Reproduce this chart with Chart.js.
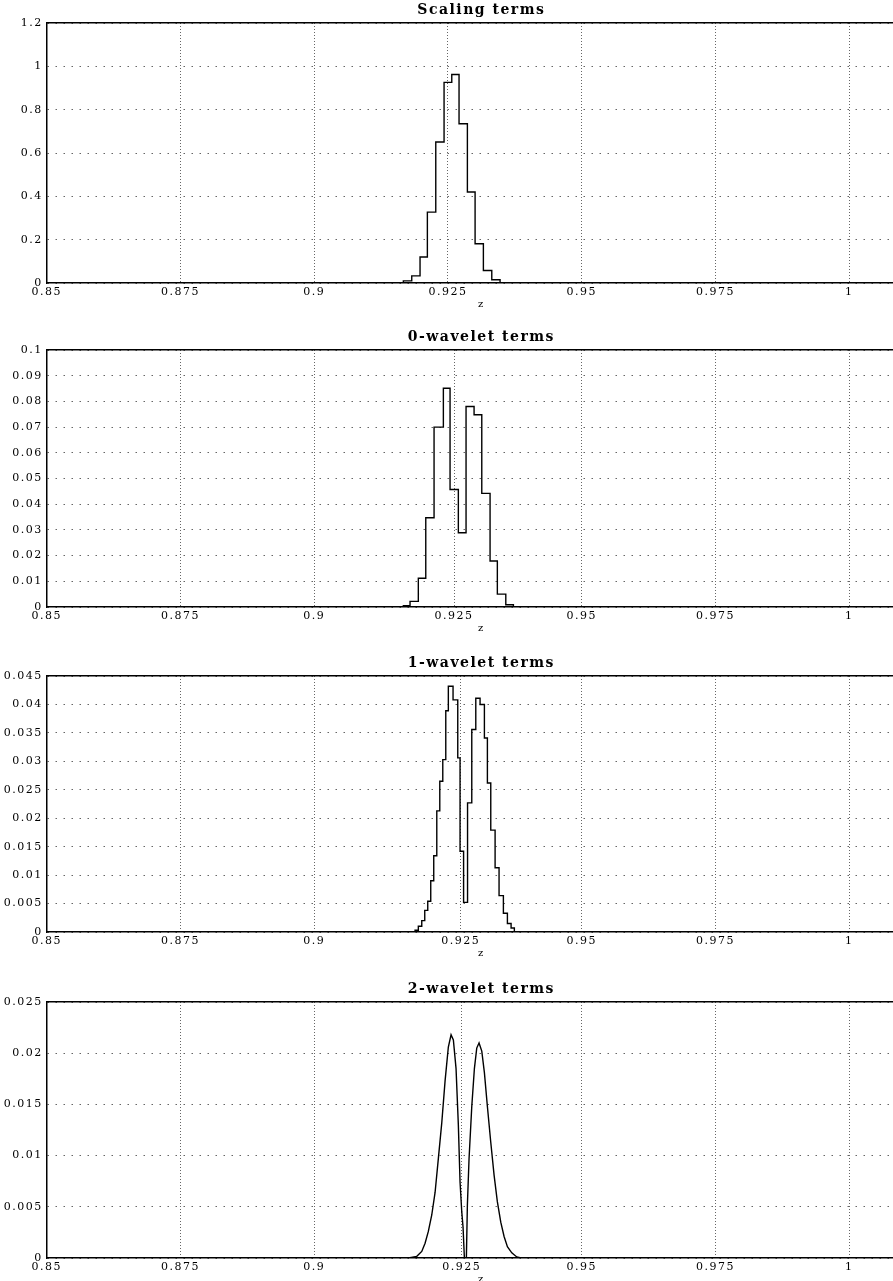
<!DOCTYPE html>
<html>
<head>
<meta charset="utf-8">
<script src="https://cdn.jsdelivr.net/npm/chart.js"></script>
<style>
  html, body { margin: 0; padding: 0; background: #fff; overflow: hidden; }
  .panel { position: absolute; left: 0; }
</style>
</head>
<body>
<div class="panel" style="top:-1px"><canvas id="scaling" width="916" height="314"></canvas></div>
<div class="panel" style="top:326px"><canvas id="wav0" width="916" height="311"></canvas></div>
<div class="panel" style="top:652px"><canvas id="wav1" width="916" height="310"></canvas></div>
<div class="panel" style="top:978px"><canvas id="wav2" width="916" height="310"></canvas></div>
<script>
// x range and tick labels (shared)
const xMin = 0.85;
const xMax = 1.0125;
const xTickLabels = ['0.85', '0.875', '0.9', '0.925', '0.95', '0.975', '1'];

// Scaling terms
const zScaling = [0.85, 0.91667, 0.91824, 0.91979, 0.92116, 0.92273, 0.92428, 0.92572, 0.92708, 0.92864, 0.93008, 0.93163, 0.93320, 0.93475, 1.0125];
const scaling = [0, 0.01, 0.033, 0.12, 0.327, 0.651, 0.926, 0.962, 0.735, 0.42, 0.181, 0.058, 0.015, 0, 0];
const xTicks1 = [0.85, 0.875, 0.9, 0.925, 0.95, 0.975, 1];
const yTicks1 = [0, 0.2, 0.4, 0.6, 0.8, 1, 1.2];

// 0-wavelet terms
const zWav0 = [0.85, 0.91667, 0.91792, 0.91947, 0.92086, 0.92241, 0.92415, 0.92540, 0.92695, 0.92839, 0.92989, 0.93133, 0.93288, 0.93424, 0.93582, 0.93724, 1.0125];
const wav0 = [0, 0.0005, 0.0022, 0.0112, 0.0347, 0.0700, 0.0851, 0.0457, 0.0289, 0.0780, 0.0748, 0.0442, 0.0179, 0.0050, 0.0009, 0, 0];
const xTicks2 = [0.85, 0.875, 0.9, 0.92615, 0.95, 0.975, 1];
const yTicks2 = [0, 0.01, 0.02, 0.03, 0.04, 0.05, 0.06, 0.07, 0.08, 0.09, 0.1];

// 1-wavelet terms
const zWav1 = [0.85, 0.91886, 0.91947, 0.92011, 0.92067, 0.92123, 0.92179, 0.92235, 0.92292, 0.92348, 0.92404, 0.92460, 0.92508, 0.92596, 0.92684, 0.92727, 0.92793, 0.92867, 0.92946, 0.93021, 0.93101, 0.93182, 0.93238, 0.93301, 0.93382, 0.93456, 0.93537, 0.93612, 0.93681, 0.93742, 1.0125];
const wav1 = [0, 0.0003, 0.0010, 0.0020, 0.0038, 0.0054, 0.0090, 0.0134, 0.0213, 0.0265, 0.0303, 0.0389, 0.0432, 0.0408, 0.0306, 0.0142, 0.0052, 0.0227, 0.0356, 0.0411, 0.0400, 0.0341, 0.0262, 0.0179, 0.0113, 0.0064, 0.0033, 0.0015, 0.0007, 0, 0];
const xTicks3 = [0.85, 0.875, 0.9, 0.9274, 0.95, 0.975, 1];
const yTicks3 = [0, 0.005, 0.01, 0.015, 0.02, 0.025, 0.03, 0.035, 0.04, 0.045];

// 2-wavelet terms
const zWav2 = [0.85, 0.91761, 0.91918, 0.92011, 0.92073, 0.92134, 0.92198, 0.92260, 0.92321, 0.92385, 0.92447, 0.92508, 0.92559, 0.92602, 0.92652, 0.92695, 0.92727, 0.92759, 0.92783, 0.92808, 0.92845, 0.92864, 0.92895, 0.92946, 0.92995, 0.93039, 0.93082, 0.93133, 0.93182, 0.93238, 0.93301, 0.93363, 0.93424, 0.93488, 0.93550, 0.93612, 0.93694, 0.93787, 0.93868, 1.0125];
const wav2 = [0, 0, 0.00016, 0.00064, 0.00145, 0.0026, 0.0042, 0.0064, 0.0097, 0.0132, 0.0173, 0.0206, 0.0218, 0.0213, 0.0185, 0.0130, 0.0074, 0.0045, 0.0030, 0, 0, 0.0052, 0.0097, 0.0148, 0.0185, 0.0205, 0.0210, 0.0202, 0.0181, 0.0148, 0.0113, 0.0081, 0.0055, 0.0035, 0.0021, 0.0011, 0.0005, 0.0001, 0, 0];
const xTicks4 = [0.85, 0.875, 0.9, 0.92759, 0.95, 0.975, 1];
const yTicks4 = [0, 0.005, 0.01, 0.015, 0.02, 0.025];

const serif = '"DejaVu Serif", "Liberation Serif", serif';
const gridColor = '#666';

// the original lettering is wide, so space the canvas text out a little
Chart.register({
  id: 'wideText',
  beforeDraw(chart) { chart.ctx.letterSpacing = '1.5px'; }
});

function makePanel(id, title, zs, vals, xTicks, yTicks, stepped) {
  const points = zs.map((z, i) => ({x: z, y: vals[i]}));
  return new Chart(document.getElementById(id), {
    type: 'line',
    data: {
      datasets: [{
        data: points,
        borderColor: '#000',
        borderWidth: 1.4,
        pointRadius: 0,
        stepped: stepped ? 'before' : false,
        tension: 0
      }]
    },
    options: {
      responsive: false,
      animation: false,
      events: [],
      layout: { padding: 0 },
      plugins: { legend: { display: false }, tooltip: { enabled: false } },
      scales: {
        x: {
          type: 'linear', position: 'bottom', bounds: 'data',
          min: xMin, max: xMax,
          afterBuildTicks: s => { s.ticks = xTicks.map(v => ({value: v})); },
          afterFit: s => { s.height = 30; },
          ticks: {
            autoSkip: false, maxRotation: 0, padding: 3, color: '#000',
            font: { family: serif, size: 11 },
            callback: (v, i) => xTickLabels[i]
          },
          grid: { color: gridColor, lineWidth: 1, drawTicks: false },
          border: { color: '#000', width: 1.5, dash: [1, 2] },
          title: {
            display: true, text: 'z', color: '#000',
            font: { family: serif, size: 10 },
            padding: { top: 0, bottom: 3 }
          }
        },
        xTop: {
          type: 'linear', position: 'top', bounds: 'data',
          min: xMin, max: xMax,
          afterFit: s => { s.height = 24; },
          ticks: { display: false },
          grid: { display: false, drawTicks: false },
          border: { color: '#000', width: 1.5 },
          title: {
            display: true, text: title, color: '#000',
            font: { family: serif, size: 14, weight: 'bold' },
            padding: { top: 3, bottom: 0 }
          }
        },
        y: {
          type: 'linear', bounds: 'data',
          min: 0, max: yTicks[yTicks.length - 1],
          afterBuildTicks: s => { s.ticks = yTicks.map(v => ({value: v})); },
          afterFit: s => { s.width = 46.7; },
          ticks: {
            padding: 4, color: '#000',
            font: { family: serif, size: 11 },
            callback: v => String(+v.toFixed(4))
          },
          grid: { color: gridColor, lineWidth: 1, drawTicks: false },
          border: { color: '#000', width: 1.5, dash: [1.5, 6.5] }
        }
      }
    }
  });
}

makePanel('scaling', 'Scaling terms', zScaling, scaling, xTicks1, yTicks1, true);
makePanel('wav0', '0-wavelet terms', zWav0, wav0, xTicks2, yTicks2, true);
makePanel('wav1', '1-wavelet terms', zWav1, wav1, xTicks3, yTicks3, true);
makePanel('wav2', '2-wavelet terms', zWav2, wav2, xTicks4, yTicks4, false);
</script>
</body>
</html>
